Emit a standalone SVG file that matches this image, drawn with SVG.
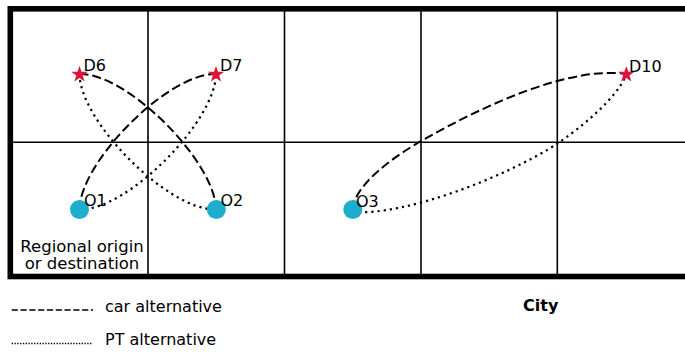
<svg xmlns="http://www.w3.org/2000/svg" width="685" height="352" viewBox="0 0 685 352">
<style>
text{font-family:"DejaVu Sans","Liberation Sans",sans-serif;font-size:16px;fill:#000}
.grid{stroke:#000;stroke-width:1.6;fill:none}
.frame{stroke:#000;stroke-width:5.6;fill:none}
.car{stroke:#000;stroke-width:2;fill:none;stroke-dasharray:9 4}
.pt{stroke:#000;stroke-width:2.2;fill:none;stroke-dasharray:2.2 4;stroke-linecap:butt}
.origin{fill:#1CADCF}
.dest{fill:#DC143C}
.bold{font-weight:bold}
</style>
<defs>
<polygon id="star" points="0,-8.6 2,-2.8 8.2,-2.7 3.2,1 5.1,6.9 0,3.4 -5.1,6.9 -3.2,1 -8.2,-2.7 -2,-2.8"/>
</defs>
<rect width="685" height="352" fill="#fff"/>
<g id="grid">
<line class="grid" x1="148" y1="8.8" x2="148" y2="276.5"/>
<line class="grid" x1="284.5" y1="8.8" x2="284.5" y2="276.5"/>
<line class="grid" x1="421" y1="8.8" x2="421" y2="276.5"/>
<line class="grid" x1="557.3" y1="8.8" x2="557.3" y2="276.5"/>
<line class="grid" x1="10" y1="142.2" x2="690" y2="142.2"/>
<rect class="frame" x="10.3" y="8.8" width="700" height="267.7"/>
</g>
<g id="connectors">
<path class="car" d="M79.5,209.5 C80,162 168,73 216,74"/>
<path class="pt" d="M79.5,209.5 C127.5,210.5 215.5,121.5 216,74"/>
<path class="car" d="M79.5,74 C127.5,73 215.5,162 216,209.5"/>
<path class="pt" d="M79.5,74 C80,121.5 168,210.5 216,209.5"/>
<path class="car" d="M352.8,209.5 C354,185 394,156.6 420,141.7 C485,104.4 570,66 626.3,74"/>
<path class="pt" d="M352.8,212 C405,216 506.4,176.7 556.7,144 C578,130 618,98 626.3,74"/>
</g>
<g id="O1"><circle class="origin" cx="79.5" cy="209.5" r="9.5"/><text x="84" y="206">O1</text></g>
<g id="O2"><circle class="origin" cx="216.3" cy="209.5" r="9.5"/><text x="220.5" y="206">O2</text></g>
<g id="O3"><circle class="origin" cx="352.8" cy="209.5" r="9.5"/><text x="356" y="206.5">O3</text></g>
<g id="D6"><use href="#star" class="dest" x="79.5" y="74.5"/><text x="83.5" y="71">D6</text></g>
<g id="D7"><use href="#star" class="dest" x="216" y="74.5"/><text x="220" y="71">D7</text></g>
<g id="D10"><use href="#star" class="dest" x="626.3" y="74.5"/><text x="629" y="71.5">D10</text></g>
<g id="regional-label">
<text x="82" y="251.7" text-anchor="middle" style="font-size:16.5px">Regional origin</text>
<text x="82" y="269.3" text-anchor="middle" style="font-size:16.5px">or destination</text>
</g>
<g id="legend">
<line x1="11.7" y1="310" x2="93" y2="310" stroke="#000" stroke-width="1.7" stroke-dasharray="6.2 2.6"/>
<text x="105" y="311.5">car alternative</text>
<line x1="11.7" y1="343.5" x2="93" y2="343.5" stroke="#000" stroke-width="1.3" stroke-dasharray="1.3 1.5"/>
<text x="105" y="345">PT alternative</text>
<text class="bold" x="523" y="310.5">City</text>
</g>
</svg>
